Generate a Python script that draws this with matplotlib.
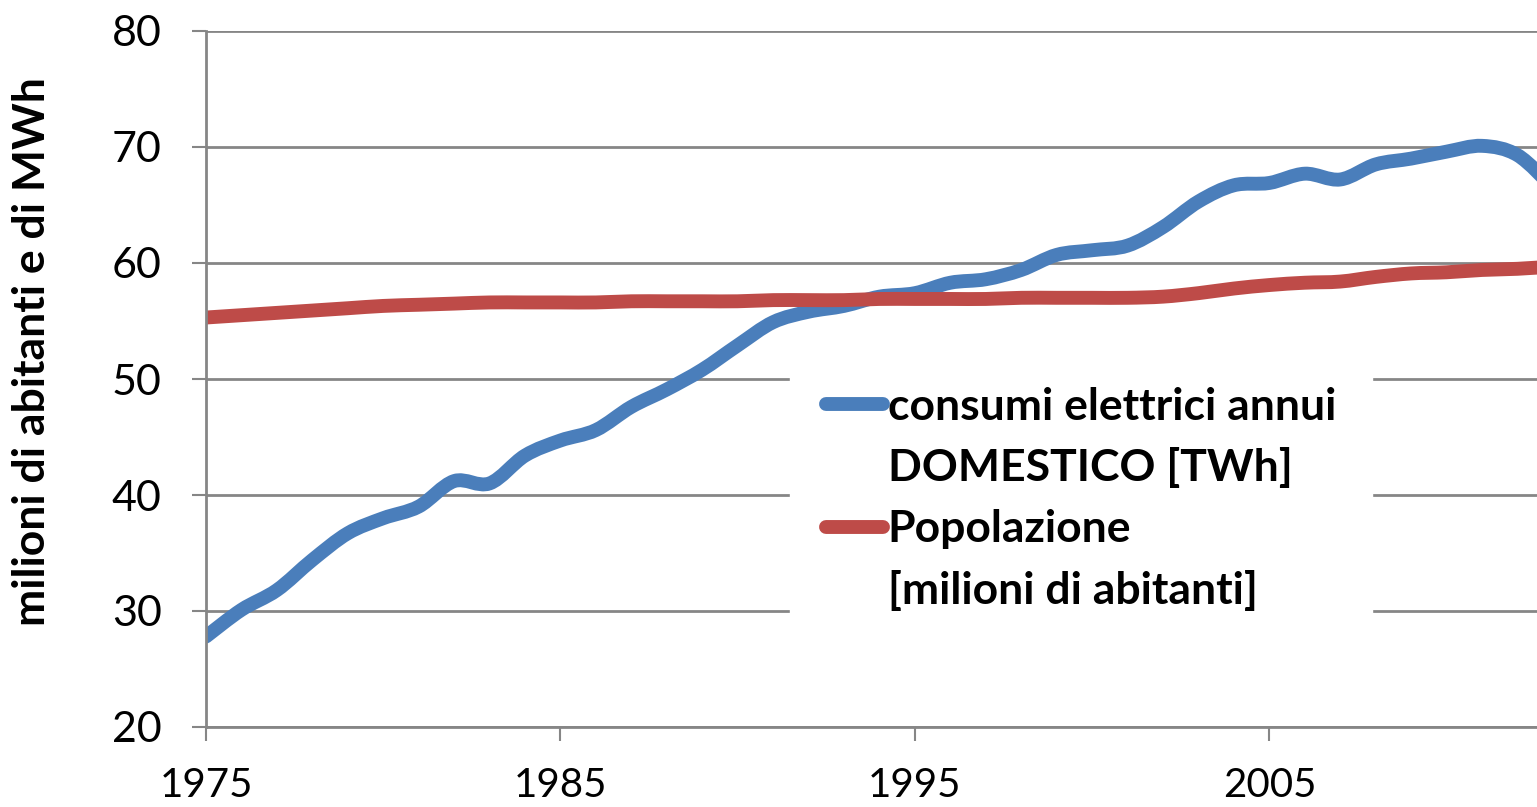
import matplotlib
matplotlib.use("Agg")
import matplotlib.pyplot as plt
import numpy as np
from matplotlib.path import Path
from matplotlib.patches import PathPatch
from matplotlib.lines import Line2D

plt.rcParams['font.family'] = ['Lato', 'DejaVu Sans']

years = list(range(1975, 2014))

consumi = [27.8, 30.1, 31.8, 34.4, 36.7, 38.0, 39.0, 41.2, 41.0, 43.4,
           44.7, 45.6, 47.6, 49.1, 50.8, 52.9, 54.9, 55.8, 56.3, 57.1,
           57.4, 58.3, 58.6, 59.4, 60.7, 61.1, 61.5, 63.1, 65.3, 66.7,
           66.9, 67.7, 67.2, 68.5, 69.0, 69.6, 70.1, 69.3, 66.5]

popolazione = [55.3, 55.5, 55.7, 55.9, 56.1, 56.3, 56.4, 56.5, 56.6, 56.6,
               56.6, 56.6, 56.7, 56.7, 56.7, 56.7, 56.8, 56.8, 56.8, 56.9,
               56.9, 56.9, 56.9, 57.0, 57.0, 57.0, 57.0, 57.1, 57.4, 57.8,
               58.1, 58.3, 58.4, 58.8, 59.1, 59.2, 59.4, 59.5, 59.7]

label_consumi = ['consumi elettrici annui', 'DOMESTICO [TWh]']
label_pop = ['Popolazione', '[milioni di abitanti]']
ylabel = 'milioni di abitanti e di MWh'

blue = '#4a7ebb'
red = '#be4b48'


def smooth_line(ax, x, y, color, lw):
    # excel-like smoothed line: catmull-rom segments as cubic beziers
    pts = np.column_stack([x, y]).astype(float)
    n = len(pts)
    verts = [pts[0]]
    codes = [Path.MOVETO]
    for i in range(n - 1):
        p0 = pts[max(i - 1, 0)]
        p1 = pts[i]
        p2 = pts[i + 1]
        p3 = pts[min(i + 2, n - 1)]
        verts += [p1 + (p2 - p0) / 6, p2 - (p3 - p1) / 6, p2]
        codes += [Path.CURVE4] * 3
    patch = PathPatch(Path(verts, codes), fill=False, edgecolor=color,
                      linewidth=lw, capstyle='round', joinstyle='round')
    ax.add_patch(patch)


fig = plt.figure(figsize=(15.37, 8.07), dpi=100)
ax = fig.add_axes([206/1537, 1 - 727/807, 1 - 206/1537, (727 - 31)/807])

smooth_line(ax, years, consumi, blue, 10)
smooth_line(ax, years, popolazione, red, 10)

ax.set_xlim(1975, 2012.55)
ax.set_ylim(20, 80)
ax.set_xticks([1975, 1985, 1995, 2005])
ax.set_yticks(range(20, 81, 10))
ax.grid(axis='y', color='#868686', linewidth=2)
ax.set_axisbelow(True)

for s in ['top', 'right']:
    ax.spines[s].set_visible(False)
for s in ['left', 'bottom']:
    ax.spines[s].set_color('#868686')
    ax.spines[s].set_linewidth(2)

ax.tick_params(axis='both', colors='#868686', width=1.5, length=10,
               labelcolor='black')
ax.tick_params(axis='y', labelsize=31, pad=22)
ax.tick_params(axis='x', labelsize=29, pad=19)

ax.set_ylabel(ylabel, fontsize=32, fontweight='bold')
ax.yaxis.set_label_coords((52 - 206)/1331, (727 - 352)/696)

handles = [Line2D([], [], color=blue, lw=10, solid_capstyle='round'),
           Line2D([], [], color='none'),
           Line2D([], [], color=red, lw=10, solid_capstyle='round'),
           Line2D([], [], color='none')]
labels = [label_consumi[0], label_consumi[1], label_pop[0], label_pop[1]]

leg = ax.legend(handles, labels, loc='upper left',
                bbox_to_anchor=((790 - 206)/1331, (727 - 351)/696),
                fontsize=32, frameon=True, fancybox=False,
                handlelength=1.3, handletextpad=0.1, labelspacing=0.47,
                borderpad=0.8, borderaxespad=0)
leg.get_frame().set_facecolor('white')
leg.get_frame().set_edgecolor('white')
leg.get_frame().set_alpha(1)
for t in leg.get_texts():
    t.set_fontweight('bold')

fig.savefig('out.png', dpi=100)
